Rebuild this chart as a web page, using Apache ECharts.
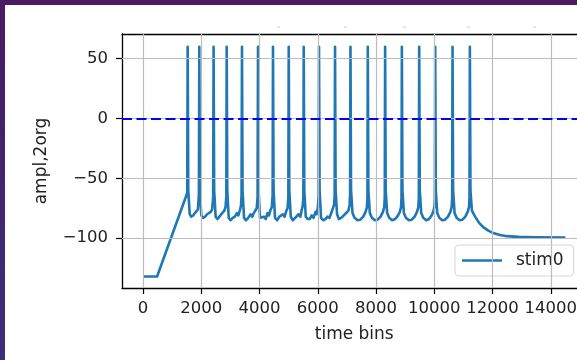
<!DOCTYPE html>
<html>
<head>
<meta charset="utf-8">
<script src="https://cdn.jsdelivr.net/npm/echarts@6/dist/echarts.min.js"></script>
<style>
  html, body { margin: 0; padding: 0; background: #fff; }
  #wrap { position: relative; width: 577px; height: 360px; overflow: hidden; background: #fff; }
  #chart { position: absolute; left: 0; top: 0; width: 577px; height: 360px; }
  #bandTop { position: absolute; left: 0; top: 0; width: 577px; height: 5px; background: #4b1a63; }
  #bandLeft { position: absolute; left: 0; top: 0; width: 5px; height: 360px;
              background: linear-gradient(#4b1a63, #3c2e7c); }
</style>
</head>
<body>
<div id="wrap">
  <div id="chart"></div>
  <div id="bandTop"></div>
  <div id="bandLeft"></div>
</div>
<script>
// Membrane trace for stim0: [time bin, amplitude]
const stim0Trace = [
  [0, -132], [480, -132], [1460, -66], [1515, -62],
  [1530, 60], [1550, -60], [1600, -80],
  [1650, -82], [1720, -81], [1780, -79], [1840, -80], [1880, -76], [1915, -64],
  [1930, 60], [1950, -60], [2000, -81],
  [2060, -83], [2130, -82], [2200, -80], [2260, -81], [2320, -78], [2370, -76], [2405, -66],
  [2420, 60], [2440, -60], [2490, -82],
  [2550, -84], [2620, -82], [2680, -80], [2730, -81], [2790, -77], [2830, -74], [2857, -65],
  [2870, 60], [2890, -60], [2940, -83],
  [3000, -85], [3080, -83], [3150, -82], [3220, -79], [3270, -81], [3320, -77], [3360, -73], [3380, -64],
  [3395, 60], [3415, -60], [3465, -83],
  [3530, -85], [3610, -83], [3690, -80], [3750, -82], [3800, -79], [3860, -80], [3900, -75], [3930, -66],
  [3945, 60], [3965, -60], [4015, -83],
  [4080, -84], [4150, -82], [4210, -84], [4270, -79], [4320, -81], [4380, -76], [4420, -74], [4447, -64],
  [4460, 60], [4480, -60], [4530, -83],
  [4600, -85], [4680, -82], [4740, -83], [4800, -80], [4860, -82], [4920, -77], [4960, -75], [4987, -65],
  [5000, 60], [5020, -60], [5070, -82],
  [5140, -85], [5220, -83], [5280, -84], [5340, -80], [5400, -82], [5440, -77], [5480, -73], [5502, -65],
  [5515, 60], [5535, -60], [5585, -82],
  [5650, -84], [5720, -84], [5790, -81], [5850, -83], [5920, -78], [5960, -80], [6000, -74], [6027, -65],
  [6040, 60], [6060, -60], [6110, -83],
  [6180, -85], [6260, -84], [6330, -82], [6400, -83], [6460, -79], [6520, -78], [6560, -72], [6577, -64],
  [6590, 60], [6610, -60], [6660, -80],
  [6720, -84], [6800, -83], [6860, -84], [6930, -80], [6990, -81], [7050, -77], [7090, -72], [7107, -64],
  [7120, 60], [7140, -60], [7190, -79],
  [7260, -83], [7360, -85], [7460, -84.5], [7560, -82], [7640, -78], [7685, -74], [7703, -66],
  [7715, 60], [7735, -60], [7785, -79],
  [7855, -83], [7955, -85], [8055, -84.5], [8155, -82], [8235, -78], [8280, -74], [8298, -66],
  [8310, 60], [8330, -60], [8380, -79],
  [8450, -83], [8550, -85], [8650, -84], [8740, -81.5], [8815, -78], [8857, -74], [8873, -66],
  [8885, 60], [8905, -60], [8955, -79],
  [9025, -83], [9125, -85], [9225, -84.5], [9325, -82], [9405, -78], [9450, -74], [9468, -66],
  [9480, 60], [9500, -60], [9550, -79],
  [9620, -83], [9720, -85], [9820, -84], [9905, -81], [9970, -77.5], [10005, -73], [10018, -66],
  [10030, 60], [10050, -60], [10100, -79],
  [10170, -83], [10270, -85], [10370, -84.5], [10470, -82], [10550, -78], [10595, -74], [10613, -66],
  [10625, 60], [10645, -60], [10695, -79],
  [10765, -83], [10865, -85], [10965, -84.5], [11065, -82], [11145, -78], [11190, -74], [11208, -66],
  [11220, 60], [11240, -60],
  [11290, -77], [11400, -82], [11530, -87], [11667, -90.5], [11840, -93.5], [12020, -95.7],
  [12250, -97.3], [12490, -98.3], [12900, -98.9], [13500, -99.2], [14500, -99.4]
];

const xTickValues = [0, 2000, 4000, 6000, 8000, 10000, 12000, 14000];
const yTickValues = [-100, -50, 0, 50];
const thresholdLevel = 0;
const seriesName = 'stim0';
const xAxisTitle = 'time bins';
const yAxisTitle = 'ampl,2org';

const FONT = 'DejaVu Sans';
const GRID_COLOR = '#bcbcbc';
const X_MIN = -725, X_MAX = 15225;
const chart = echarts.init(document.getElementById('chart'), null, { renderer: 'canvas' });

// grid lines placed at the tick values
const gridLineData = xTickValues.map(v => ({ xAxis: v }))
  .concat(yTickValues.map(v => ({ yAxis: v })));

chart.setOption({
  animation: false,
  backgroundColor: '#ffffff',
  textStyle: { fontFamily: FONT },
  grid: {
    left: 122, top: 34, width: 464.5, height: 254,
    outerBoundsMode: 'none', containLabel: false, show: false
  },
  legend: {
    data: [seriesName],
    left: 455, top: 245,
    padding: [7, 10, 7, 7],
    backgroundColor: 'rgba(255,255,255,0.85)',
    borderColor: '#d6d6d6', borderWidth: 1, borderRadius: 4,
    icon: 'rect', itemWidth: 40, itemHeight: 2.6,
    textStyle: { fontFamily: FONT, fontSize: 17, color: '#222', padding: [0, 0, 0, 9] }
  },
  xAxis: [
    {
      type: 'value', min: X_MIN, max: X_MAX, position: 'bottom',
      name: xAxisTitle, nameLocation: 'middle', nameGap: 38,
      nameTextStyle: { fontFamily: FONT, fontSize: 17, color: '#222' },
      axisLine: { show: true, onZero: false, lineStyle: { color: '#000', width: 1.3 } },
      axisTick: { show: true, length: 6, customValues: xTickValues, lineStyle: { color: '#000', width: 1.2 } },
      axisLabel: { customValues: xTickValues, interval: 0, margin: 12, fontFamily: FONT, fontSize: 16.5,
                   color: '#222', hideOverlap: false, formatter: v => String(v) },
      splitLine: { show: false }
    },
    {
      // top frame edge
      type: 'value', min: X_MIN, max: X_MAX, position: 'top',
      axisLine: { show: true, onZero: false, lineStyle: { color: '#000', width: 1.3 } },
      axisTick: { show: false }, axisLabel: { show: false }, splitLine: { show: false }
    }
  ],
  yAxis: {
    type: 'value', min: -141.6, max: 70.6,
    name: yAxisTitle, nameLocation: 'middle', nameGap: 72,
    nameTextStyle: { fontFamily: FONT, fontSize: 17, color: '#222' },
    axisLine: { show: true, onZero: false, lineStyle: { color: '#000', width: 1.3 } },
    axisTick: { show: true, length: 6, customValues: yTickValues, lineStyle: { color: '#000', width: 1.2 } },
    axisLabel: { customValues: yTickValues, interval: 0, margin: 14, fontFamily: FONT, fontSize: 16.5,
                 color: '#222', formatter: v => (v < 0 ? '\u2212' + Math.abs(v) : String(v)) },
    splitLine: { show: false }
  },
  series: [
    {
      name: 'gridlines',
      type: 'line',
      xAxisIndex: 0,
      data: [],
      z: 1,
      silent: true,
      markLine: {
        silent: true,
        symbol: ['none', 'none'],
        label: { show: false },
        lineStyle: { color: GRID_COLOR, width: 1.2, type: 'solid' },
        data: gridLineData
      }
    },
    {
      name: seriesName,
      type: 'line',
      xAxisIndex: 0,
      data: stim0Trace,
      z: 3,
      showSymbol: false,
      symbol: 'none',
      lineStyle: { color: '#1f77b4', width: 2.6, join: 'round' },
      itemStyle: { color: '#1f77b4' },
      markLine: {
        silent: true,
        symbol: ['none', 'none'],
        label: { show: false },
        lineStyle: { color: '#0000ff', width: 2.2, type: [10, 4.5] },
        data: [{ yAxis: thresholdLevel }]
      }
    }
  ],
  graphic: [
    { type: 'rect', left: 277, top: 26.5, shape: { width: 3, height: 1 }, style: { fill: '#cfcfcf' } },
    { type: 'rect', left: 344, top: 26.5, shape: { width: 3, height: 1 }, style: { fill: '#cfcfcf' } },
    { type: 'rect', left: 403, top: 26.5, shape: { width: 3, height: 1 }, style: { fill: '#cfcfcf' } },
    { type: 'rect', left: 467, top: 26.5, shape: { width: 3, height: 1 }, style: { fill: '#cfcfcf' } },
    { type: 'rect', left: 533, top: 26.5, shape: { width: 3, height: 1 }, style: { fill: '#cfcfcf' } }
  ]
});
</script>
</body>
</html>
